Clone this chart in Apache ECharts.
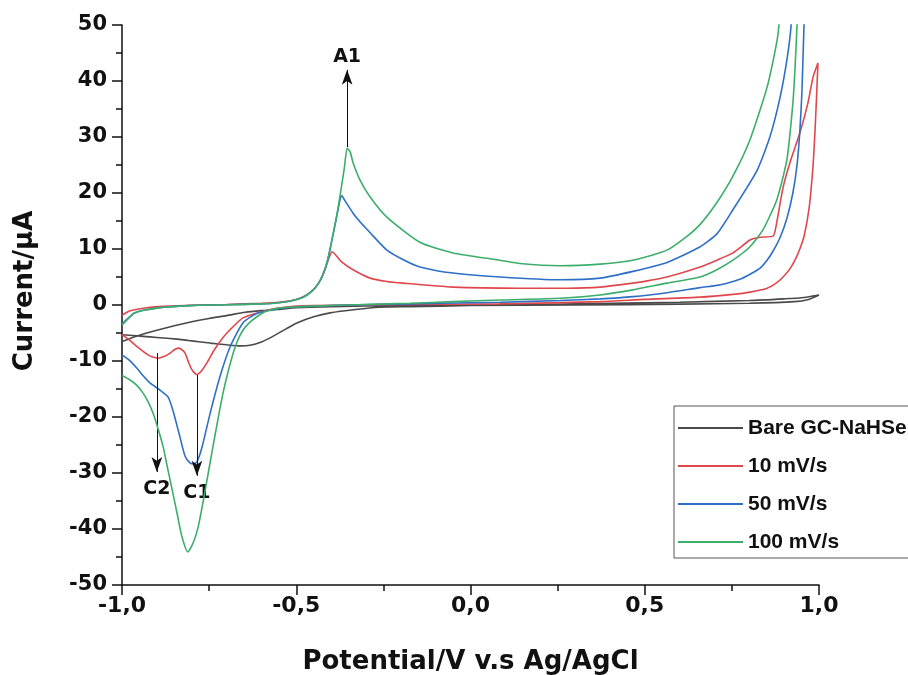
<!DOCTYPE html>
<html>
<head>
<meta charset="utf-8">
<script src="https://cdn.jsdelivr.net/npm/echarts@6/dist/echarts.min.js"></script>
<style>html,body{margin:0;padding:0;background:#fff}#c{width:908px;height:675px}</style>
</head>
<body>
<div id="c"></div>
<script>
// ---- Data (potential in V vs Ag/AgCl, current in µA), each loop in scan order ----
const seriesNames = ['Bare GC-NaHSe', '10 mV/s', '50 mV/s', '100 mV/s'];

const bareV = [-1.0,-0.95,-0.9,-0.85,-0.8,-0.75,-0.7,-0.647,-0.6,-0.555,-0.5,-0.4,-0.2,0.0,0.2,0.4,0.6,0.8,0.9,0.95,1.0,
  0.97,0.93,0.8,0.6,0.3,0.0,-0.174,-0.26,-0.33,-0.403,-0.45,-0.498,-0.53,-0.567,-0.6,-0.633,-0.66,-0.7,-0.747,-0.8,-0.842,-0.9,-0.94,-1.0];
const bareI = [-6.5,-5.4,-4.5,-3.7,-3.0,-2.4,-1.9,-1.3,-1.0,-0.8,-0.5,-0.3,-0.1,0.0,0.1,0.3,0.5,0.8,1.1,1.3,1.8,
  1.0,0.6,0.3,0.15,0.0,-0.1,-0.3,-0.4,-0.8,-1.4,-2.1,-3.2,-4.3,-5.6,-6.6,-7.2,-7.3,-7.1,-6.8,-6.4,-6.1,-5.8,-5.6,-5.3];

const v10V = [-1.0,-0.98,-0.96,-0.93,-0.88,-0.8,-0.7,-0.6,-0.55,-0.5,-0.47,-0.45,-0.43,-0.415,-0.405,-0.397,-0.385,-0.37,-0.337,-0.288,-0.24,-0.194,-0.05,0.142,0.277,0.372,0.466,0.515,0.564,0.659,0.707,0.753,0.802,0.831,0.868,0.875,0.897,0.917,0.945,0.968,0.983,0.997,
  0.990,0.983,0.972,0.958,0.945,0.931,0.917,0.897,0.879,0.851,0.802,0.753,0.659,0.5,0.372,0.085,-0.2,-0.45,-0.5,-0.555,-0.6,-0.653,-0.68,-0.71,-0.735,-0.756,-0.772,-0.785,-0.797,-0.808,-0.819,-0.83,-0.839,-0.85,-0.862,-0.88,-0.897,-0.912,-0.925,-0.945,-0.963,-0.98,-1.0];
const v10I = [-1.8,-1.1,-0.8,-0.5,-0.25,-0.05,0.1,0.3,0.5,1.0,1.8,2.8,4.5,6.8,8.6,9.5,8.8,7.7,6.3,4.8,4.2,3.9,3.2,3.0,3.0,3.2,3.9,4.4,5.0,6.8,8.0,9.3,11.6,12.1,12.3,13.5,21,25.5,30.7,36,40.7,43.2,
  33,25,17.5,12.5,10,8,6.5,5,4,3.0,2.3,1.9,1.4,1.0,0.6,0.2,0.1,-0.1,-0.2,-0.6,-1.2,-2.3,-3.8,-5.8,-8,-10.3,-11.8,-12.4,-11.8,-10.4,-8.6,-7.9,-7.7,-8.0,-8.6,-9.2,-9.5,-9.3,-8.9,-8.0,-7.1,-6.2,-5.3];

const v50V = [-1.0,-0.98,-0.963,-0.935,-0.905,-0.87,-0.834,-0.78,-0.7,-0.6,-0.55,-0.51,-0.48,-0.46,-0.44,-0.423,-0.41,-0.398,-0.385,-0.375,-0.369,-0.36,-0.337,-0.312,-0.288,-0.24,-0.19,-0.145,-0.05,0.085,0.257,0.372,0.466,0.564,0.659,0.707,0.753,0.822,0.859,0.888,0.908,0.920,1.0,
  0.957,0.951,0.945,0.937,0.925,0.908,0.888,0.868,0.851,0.831,0.802,0.773,0.736,0.707,0.659,0.564,0.466,0.372,0.257,0.085,-0.174,-0.35,-0.45,-0.498,-0.555,-0.613,-0.653,-0.690,-0.719,-0.747,-0.770,-0.785,-0.795,-0.805,-0.819,-0.834,-0.854,-0.868,-0.891,-0.920,-0.94,-0.957,-0.98,-1.0];
const v50I = [-3.4,-2.2,-1.4,-0.9,-0.6,-0.35,-0.2,-0.05,0.05,0.2,0.4,0.8,1.4,2.2,3.5,5.5,8,11.5,15.5,18.6,19.5,18.6,16.4,14.5,12.9,9.8,8.0,6.8,5.7,5.0,4.5,4.8,6.0,7.6,10.4,12.7,17,24,30,37,43.8,50,120,
  50,38,31,25,20,15.5,12,9.6,8,6.6,5.5,4.6,3.9,3.5,3.1,2.2,1.5,1.1,0.8,0.5,0.2,0,-0.2,-0.3,-0.7,-1.5,-3.2,-7.5,-12.8,-19.3,-25.3,-28,-28.4,-28.2,-27,-23.5,-18.8,-16.4,-15.2,-13.9,-12.6,-11.3,-9.8,-8.9];

const v100V = [-1.0,-0.98,-0.963,-0.935,-0.905,-0.87,-0.834,-0.78,-0.7,-0.6,-0.55,-0.51,-0.48,-0.46,-0.44,-0.423,-0.41,-0.398,-0.385,-0.373,-0.362,-0.354,-0.345,-0.337,-0.317,-0.288,-0.24,-0.145,-0.05,0.085,0.142,0.257,0.372,0.466,0.564,0.62,0.659,0.707,0.753,0.802,0.851,0.879,0.885,1.0,
  0.937,0.931,0.925,0.908,0.879,0.839,0.802,0.753,0.707,0.659,0.564,0.466,0.372,0.257,0.085,-0.05,-0.174,-0.3,-0.45,-0.52,-0.555,-0.59,-0.613,-0.635,-0.653,-0.668,-0.681,-0.696,-0.710,-0.725,-0.739,-0.754,-0.768,-0.782,-0.796,-0.811,-0.828,-0.841,-0.854,-0.868,-0.882,-0.897,-0.911,-0.925,-0.940,-0.958,-0.977,-1.0];
const v100I = [-3.6,-2.3,-1.4,-0.9,-0.6,-0.35,-0.2,-0.05,0.05,0.2,0.4,0.8,1.4,2.2,3.5,5.5,8,11.5,15.5,20,24.5,28.0,27.3,25.4,22.3,19.3,15.7,11.2,9.3,8.0,7.4,7.0,7.3,8.0,9.8,12.2,14.4,18.3,23,29.5,38.9,47.0,50,150,
  50,42,36,26,18.8,13.4,10.4,8.0,6.3,5.0,3.9,2.7,1.8,1.2,0.9,0.6,0.3,0.1,-0.2,-0.4,-0.6,-1.2,-2.1,-3.2,-4.5,-6.3,-8.6,-12,-15.7,-20.5,-25.3,-30.5,-35.4,-39.8,-42.5,-44.1,-41.4,-37.5,-33.6,-29.5,-25.3,-22,-19.3,-17.3,-15.7,-14.3,-13.4,-12.6];

// Peak annotations: label, potential, start current, arrow-tip current
const peakLabels = ['A1', 'C2', 'C1'];
const peakV = [-0.354, -0.90, -0.785];
const peakFrom = [28.2, -8.6, -12.5];
const peakTo = [42.0, -29.8, -30.5];

const xTicks = { min: -1, max: 1, interval: 0.5 };
const yTicks = { min: -50, max: 50, interval: 10 };

// ---- Build ----
const pairs = (xs, ys) => xs.map((x, i) => [x, ys[i]]);
const colors = ['#4a4a4a', '#e0474c', '#2f6fc7', '#3cae6a'];
const FONT = '"Liberation Sans", Arial, sans-serif';
const WIDE = '"DejaVu Sans", sans-serif';

const annotLines = peakLabels.map((lab, i) => [
  { coord: [peakV[i], peakFrom[i]], symbol: 'none' },
  { coord: [peakV[i], peakTo[i]], symbol: 'arrow', symbolSize: [8, 15],
    label: { formatter: lab, distance: i === 0 ? 3 : 8 } }
]);

const dataSets = [pairs(bareV, bareI), pairs(v10V, v10I), pairs(v50V, v50I), pairs(v100V, v100I)];

const series = dataSets.map((d, i) => ({
  name: seriesNames[i],
  type: 'line',
  data: d,
  showSymbol: false,
  symbol: 'none',
  smooth: 0.2,
  clip: true,
  z: 2 + i,
  lineStyle: { color: colors[i], width: 1.6 },
  itemStyle: { color: colors[i] }
}));

series.push({
  type: 'line', data: [], silent: true, z: 10,
  markLine: {
    silent: true, animation: false,
    symbol: ['none', 'arrow'],
    lineStyle: { color: '#111', width: 1, type: 'solid' },
    label: { show: true, position: 'end', color: '#111', fontWeight: 'bold', fontSize: 19, fontFamily: WIDE },
    emphasis: { disabled: true },
    data: annotLines
  }
});

const chart = echarts.init(document.getElementById('c'), null, { renderer: 'canvas' });
chart.setOption({
  animation: false,
  backgroundColor: '#fff',
  grid: { left: 122, top: 25, width: 697, height: 560, containLabel: false, outerBoundsMode: 'none' },
  legend: {
    data: seriesNames.map(n => ({ name: n, icon: 'rect' })),
    orient: 'vertical',
    left: 674, top: 406,
    itemWidth: 65, itemHeight: 2, itemGap: 16,
    padding: [11, 40, 5, 4],
    borderColor: '#555', borderWidth: 1,
    backgroundColor: '#fff',
    textStyle: { color: '#111', fontSize: 21, lineHeight: 22, fontWeight: 'bold', fontFamily: FONT },
    selectedMode: false
  },
  xAxis: {
    type: 'value', min: xTicks.min, max: xTicks.max, interval: xTicks.interval,
    name: 'Potential/V v.s Ag/AgCl', nameLocation: 'middle', nameGap: 64,
    nameTextStyle: { color: '#111', fontSize: 26, fontWeight: 'bold', fontFamily: WIDE },
    axisLine: { onZero: false, lineStyle: { color: '#111', width: 1.5 } },
    axisTick: { show: true, inside: false, length: 10, lineStyle: { color: '#111', width: 1.5 } },
    minorTick: { show: true, splitNumber: 2, length: 6, lineStyle: { color: '#111', width: 1.5 } },
    splitLine: { show: false },
    axisLabel: { color: '#111', fontSize: 22, fontWeight: 'bold', fontFamily: WIDE, margin: 10,
      formatter: v => v.toFixed(1).replace('.', ',') }
  },
  yAxis: {
    type: 'value', min: yTicks.min, max: yTicks.max, interval: yTicks.interval,
    name: 'Current/\u03bcA', nameLocation: 'middle', nameGap: 84,
    nameTextStyle: { color: '#111', fontSize: 26, fontWeight: 'bold', fontFamily: WIDE, padding: [0, 0, 0, 28] },
    axisLine: { onZero: false, lineStyle: { color: '#111', width: 1.5 } },
    axisTick: { show: true, inside: false, length: 10, lineStyle: { color: '#111', width: 1.5 } },
    minorTick: { show: true, splitNumber: 2, length: 6, lineStyle: { color: '#111', width: 1.5 } },
    splitLine: { show: false },
    axisLabel: { color: '#111', fontSize: 21, fontWeight: 'bold', fontFamily: WIDE, margin: 15 }
  },
  series: series
});
</script>
</body>
</html>
